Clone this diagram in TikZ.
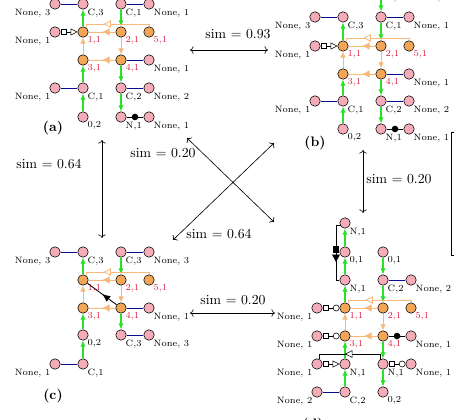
\documentclass[tikz,border=0pt]{standalone}
\usetikzlibrary{arrows.meta, decorations.markings}
\definecolor{pinkn}{RGB}{243,172,184}
\definecolor{orgn}{RGB}{242,166,86}
\definecolor{orgl}{RGB}{247,184,122}
\definecolor{grnl}{RGB}{40,225,40}
\definecolor{blul}{RGB}{10,10,140}
\definecolor{redl}{RGB}{220,35,65}
\begin{document}
\begin{tikzpicture}[x=0.725pt, y=-0.725pt,
    pnode/.style={circle, draw=black, fill=pinkn, minimum size=7.6pt, inner sep=0pt},
    onode/.style={circle, draw=black, fill=orgn, minimum size=7.6pt, inner sep=0pt},
    lbl/.style={font=\fontsize{6.7}{7}\selectfont, inner sep=0.4pt},
    lr/.style={label={[lbl, anchor=north west]south east:#1}},
    ll/.style={label={[lbl, anchor=north east]south west:#1}},
    lred/.style={label={[lbl, text=redl, anchor=north west]south east:#1}},
    grn/.style={color=grnl, line width=0.8pt, -{Latex[length=4.5pt,width=4pt]}},
    blu/.style={color=blul, line width=0.5pt},
    org/.style={color=orgl, line width=0.6pt},
    orga/.style={org, -{Latex[length=4.5pt,width=4pt]}},
    midtri/.style={org, decoration={markings, mark=at position 0.5 with {\arrow{Latex[length=5.5pt,width=5.5pt]}}}, postaction={decorate}},
    opentri/.style={org, decoration={markings, mark=at position 0.7 with {\arrow{Triangle[length=5.5pt,width=5.5pt,fill=white]}}}, postaction={decorate}},
    boxtri/.style={line width=0.4pt, {Square[length=4.2pt,fill=white]}-{Triangle[length=5pt,width=5pt,fill=white]}},
    boxcirc/.style={line width=0.4pt, {Square[length=4.2pt,fill=white]}-{Circle[length=4.8pt,fill=white]}},
    blkmid/.style={line width=0.6pt, decoration={markings, mark=at position 0.5 with {\arrow{Latex[length=6pt,width=5pt]}}}, postaction={decorate}},
    dot/.style={circle, fill=black, inner sep=0pt, minimum size=4.8pt},
    sim/.style={font=\normalsize},
    dbl/.style={line width=0.45pt, <->}]

\useasboundingbox (0,0) rectangle (454,419);
\clip (0,0) rectangle (454,419);

% (a)
\begin{scope}[shift={(83,32)}]
    \node[pnode, ll={None, 3}] (aN3) at (-28,-28) {};
    \node[pnode, lr={C,3}] (aC3) at (0,-28) {};
    \node[pnode, lr={C,1}] (aC1t) at (38,-28) {};
    \node[pnode, lr={None, 1}] (aR1) at (66,-28) {};
    \node[pnode, ll={None, 1}] (aL1) at (-28,0) {};
    \node[onode, lred={1,1}] (a11) at (0,0) {};
    \node[onode, lred={2,1}] (a21) at (38,0) {};
    \node[onode, lred={5,1}] (a51) at (66,0) {};
    \node[onode, lred={3,1}] (a31) at (0,28) {};
    \node[onode, lred={4,1}] (a41) at (38,28) {};
    \node[pnode, lr={None, 1}] (aR2) at (66,28) {};
    \node[pnode, ll={None, 1}] (aL2) at (-28,56) {};
    \node[pnode, lr={C,1}] (aC1) at (0,56) {};
    \node[pnode, lr={C,2}] (aC2) at (38,56) {};
    \node[pnode, lr={None, 2}] (aR3) at (66,56) {};
    \node[pnode, lr={0,2}] (a02) at (0,85) {};
    \node[pnode, lr={N,1}] (aN1) at (38,85) {};
    \node[pnode, lr={None, 1}] (aR4) at (66,85) {};

    \draw[blu] (aN3) -- (aC3);
    \draw[blu] (aC1t) -- (aR1);
    \draw[blu] (a41) -- (aR2);
    \draw[blu] (aL2) -- (aC1);
    \draw[blu] (aC2) -- (aR3);
    \draw[grn] (a11) -- (aC3);
    \draw[grn] (aC1) -- (a31);
    \draw[grn] (a02) -- (aC1);
    \draw[grn] (aC1t) -- (a21);
    \draw[grn] (a41) -- (aC2);
    \draw[grn] (aC2) -- (aN1);
    \draw[orga] (a31) -- (a11);
    \draw[orga] (a21) -- (a41);
    \draw[midtri] (a21) -- (a11);
    \draw[midtri] (a41) -- (a31);
    \draw[opentri] (a51.north) |- ([shift={(3,-8)}]a11.center) -- ([shift={(3,-4.8)}]a11.center);
    \draw[boxtri] (aL1) -- (a11);
    \draw (aN1) -- node[dot] {} (aR4);
\end{scope}

% (b)
\begin{scope}[shift={(343,46)}]
    \node[pnode, lr={N,1}] (bN1t) at (38,-57) {};
    \node[pnode, lr={None, 1}] (bR0) at (66,-57) {};
    \node[pnode, ll={None, 3}] (bN3) at (-28,-29) {};
    \node[pnode, lr={C,3}] (bC3) at (0,-29) {};
    \node[pnode, lr={C,1}] (bC1t) at (38,-29) {};
    \node[pnode, lr={None, 1}] (bR1) at (66,-29) {};
    \node[pnode, ll={None, 1}] (bL1) at (-28,0) {};
    \node[onode, lred={1,1}] (b11) at (0,0) {};
    \node[onode, lred={2,1}] (b21) at (38,0) {};
    \node[onode, lred={5,1}] (b51) at (66,0) {};
    \node[onode, lred={3,1}] (b31) at (0,28) {};
    \node[onode, lred={4,1}] (b41) at (38,28) {};
    \node[pnode, lr={None, 1}] (bR2) at (66,28) {};
    \node[pnode, ll={None, 1}] (bL2) at (-28,55) {};
    \node[pnode, lr={C,1}] (bC1) at (0,55) {};
    \node[pnode, lr={C,2}] (bC2) at (38,55) {};
    \node[pnode, lr={None, 2}] (bR3) at (66,55) {};
    \node[pnode, lr={0,2}] (b02) at (0,83) {};
    \node[pnode, lr={N,1}] (bN1) at (38,83) {};
    \node[pnode, lr={None, 1}] (bR4) at (66,83) {};

    \draw[blu] (bN1t) -- (bR0);
    \draw[blu] (bN3) -- (bC3);
    \draw[blu] (bC1t) -- (bR1);
    \draw[blu] (b41) -- (bR2);
    \draw[blu] (bL2) -- (bC1);
    \draw[blu] (bC2) -- (bR3);
    \draw[grn] (bN1t) -- (bC1t);
    \draw[grn] (b11) -- (bC3);
    \draw[grn] (bC1) -- (b31);
    \draw[grn] (b02) -- (bC1);
    \draw[grn] (bC1t) -- (b21);
    \draw[grn] (b41) -- (bC2);
    \draw[grn] (bC2) -- (bN1);
    \draw[orga] (b31) -- (b11);
    \draw[orga] (b21) -- (b41);
    \draw[midtri] (b21) -- (b11);
    \draw[midtri] (b41) -- (b31);
    \draw[opentri] (b51.north) |- ([shift={(3,-8)}]b11.center) -- ([shift={(3,-4.8)}]b11.center);
    \draw[boxtri] (bL1) -- (b11);
    \draw (bN1) -- node[dot] {} (bR4);
\end{scope}

% (c)
\begin{scope}[shift={(83,280)}]
    \node[pnode, ll={None, 3}] (cN3) at (-28,-28) {};
    \node[pnode, lr={C,3}] (cC3) at (0,-28) {};
    \node[pnode, lr={C,3}] (cC3b) at (38,-28) {};
    \node[pnode, lr={None, 3}] (cR1) at (66,-28) {};
    \node[onode, lred={1,1}] (c11) at (0,0) {};
    \node[onode, lred={2,1}] (c21) at (38,0) {};
    \node[onode, lred={5,1}] (c51) at (66,0) {};
    \node[onode, lred={3,1}] (c31) at (0,28) {};
    \node[onode, lred={4,1}] (c41) at (38,28) {};
    \node[pnode, lr={None, 1}] (cR2) at (66,28) {};
    \node[pnode, lr={0,2}] (c02) at (0,55) {};
    \node[pnode, lr={C,3}] (cC3c) at (38,55) {};
    \node[pnode, lr={None, 3}] (cR3) at (66,55) {};
    \node[pnode, ll={None, 1}] (cL4) at (-28,84) {};
    \node[pnode, lr={C,1}] (cC1) at (0,84) {};

    \draw[blu] (cN3) -- (cC3);
    \draw[blu] (cC3b) -- (cR1);
    \draw[blu] (c41) -- (cR2);
    \draw[blu] (cC3c) -- (cR3);
    \draw[blu] (cL4) -- (cC1);
    \draw[grn] (c11) -- (cC3);
    \draw[grn] (c02) -- (c31);
    \draw[grn] (cC1) -- (c02);
    \draw[grn] (cC3b) -- (c21);
    \draw[grn] (c41) -- (cC3c);
    \draw[orga] (c31) -- (c11);
    \draw[orga] (c21) -- (c41);
    \draw[midtri] (c21) -- (c11);
    \draw[midtri] (c41) -- (c31);
    \draw[opentri] (c51.north) |- ([shift={(3,-8)}]c11.center) -- ([shift={(3,-4.8)}]c11.center);
    \draw[blkmid] (c41) -- (c11);
\end{scope}

% (d)
\begin{scope}[shift={(345,308)}]
    \node[pnode, lr={N,1}] (dN1t) at (0,-85) {};
    \node[pnode, lr={0,1}] (d01) at (0,-56) {};
    \node[pnode, lr={0,1}] (d01b) at (38,-56) {};
    \node[pnode, lr={N,1}] (dNm) at (0,-28) {};
    \node[pnode, lr={C,2}] (dC2) at (38,-28) {};
    \node[pnode, lr={None, 2}] (dR1) at (66,-28) {};
    \node[pnode, ll={None, 1}] (dL1) at (-28,0) {};
    \node[onode, lred={1,1}] (d11) at (0,0) {};
    \node[onode, lred={2,1}] (d21) at (38,0) {};
    \node[onode, lred={5,1}] (d51) at (66,0) {};
    \node[pnode, ll={None, 1}] (dL2) at (-28,28) {};
    \node[onode, lred={3,1}] (d31) at (0,28) {};
    \node[onode, lred={4,1}] (d41) at (38,28) {};
    \node[pnode, lr={None, 1}] (dR2) at (66,28) {};
    \node[pnode, ll={None, 1}] (dL3) at (-28,56) {};
    \node[pnode, lr={N,1}] (dN1) at (0,56) {};
    \node[pnode, lr={N,1}] (dN1b) at (38,56) {};
    \node[pnode, lr={None, 1}] (dR3) at (66,56) {};
    \node[pnode, ll={None, 2}] (dL4) at (-28,84) {};
    \node[pnode, lr={C,2}] (dC2b) at (0,84) {};
    \node[pnode, lr={0,2}] (d02) at (38,84) {};

    \draw[blu] (dC2) -- (dR1);
    \draw[blu] (dL4) -- (dC2b);
    \draw[grn] (d01) -- (dN1t);
    \draw[grn] (dNm) -- (d01);
    \draw[grn] (d11) -- (dNm);
    \draw[grn] (dN1) -- (d31);
    \draw[grn] (dC2b) -- (dN1);
    \draw[grn] (d01b) -- (dC2);
    \draw[grn] (dC2) -- (d21);
    \draw[grn] (d41) -- (dN1b);
    \draw[grn] (dN1b) -- (d02);
    \draw[orga] (d31) -- (d11);
    \draw[orga] (d21) -- (d41);
    \draw[midtri] (d21) -- (d11);
    \draw[midtri] (d41) -- (d31);
    \draw[opentri] (d51.north) |- ([shift={(3,-8)}]d11.center) -- ([shift={(3,-4.8)}]d11.center);
    \draw[boxcirc] (dL1) -- (d11);
    \draw[boxcirc] (dL2) -- (d31);
    \draw[boxtri] (dL3) -- (dN1);
    \draw[boxcirc] (dN1b) -- (dR3);
    \draw (d41) -- node[dot] {} (dR2);
    \draw[line width=0.4pt, decoration={markings, mark=at position 0.57 with {\arrow{Triangle[length=5.5pt,width=5.5pt,fill=white]}}}, postaction={decorate}]
        ([shift={(-3,-4)}]dN1b.center) |- ([shift={(2,-10)}]dL3.center) -- ([shift={(2,-4.8)}]dL3.center);
    \draw[line width=0.4pt, decoration={markings,
            mark=at position 0.46 with {\node[fill=black, inner sep=0pt, minimum size=4.8pt] {};},
            mark=at position 0.66 with {\arrow{Triangle[length=5.5pt,width=5.5pt]}}}, postaction={decorate}]
        ([shift={(-4.3,2.5)}]dN1t.center) -| ([shift={(-9,0)}]dNm.center) -- (dNm.west);
\end{scope}

% panel labels
\node[font=\bfseries] (tagA) at (53,128) {(a)};
\node[font=\bfseries] (tagB) at (315,143) {(b)};
\node[font=\bfseries] (tagC) at (53,396) {(c)};
\node[font=\bfseries] (tagD) at (313,425) {(d)};

% similarity arrows
\coordinate (ab1) at (190,50);
\coordinate (ab2) at (268,50);
\coordinate (ac1) at (102,140);
\coordinate (ac2) at (102,238);
\coordinate (bd1) at (363,150);
\coordinate (bd2) at (363,213);
\coordinate (cd1) at (190,313);
\coordinate (cd2) at (275,313);
\coordinate (ad1) at (187,138);
\coordinate (ad2) at (274,222);
\coordinate (bc1) at (274,143);
\coordinate (bc2) at (173,240);
\draw[dbl] (ab1) -- (ab2);
\draw[dbl] (ac1) -- (ac2);
\draw[dbl] (bd1) -- (bd2);
\draw[dbl] (cd1) -- (cd2);
\draw[dbl] (ad1) -- (ad2);
\draw[dbl] (bc1) -- (bc2);
\node[sim] (simAB) at (238,34) {sim $=$ 0.93};
\node[sim] (simAC) at (49,164) {sim $=$ 0.64};
\node[sim] (simBD) at (399,179) {sim $=$ 0.20};
\node[sim] (simCD) at (233,300) {sim $=$ 0.20};
\node[sim] (simAD) at (163,153) {sim $=$ 0.20};
\node[sim] (simBC) at (219,234) {sim $=$ 0.64};

% box at right edge
\draw[line width=0.5pt] (470,132) -- (451,132) -- (451,255) -- (470,255);
\end{tikzpicture}
\end{document}
